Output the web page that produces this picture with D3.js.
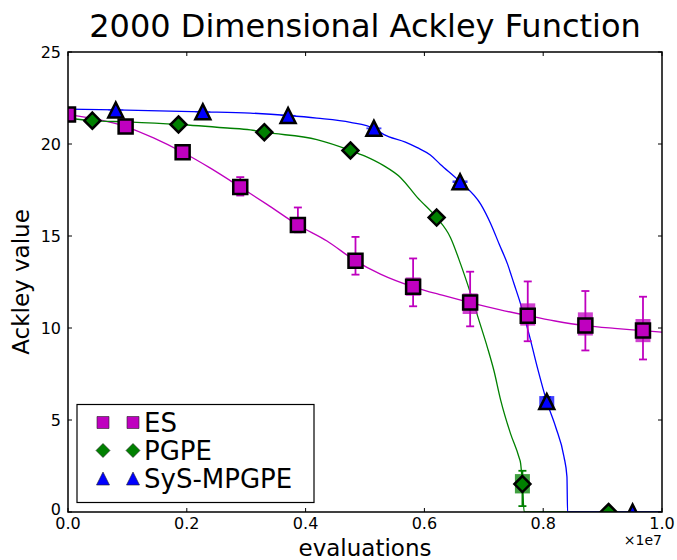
<!DOCTYPE html>
<html>
<head>
<meta charset="utf-8">
<script src="https://cdn.jsdelivr.net/npm/d3@7"></script>
<style>
  html, body { margin: 0; padding: 0; background: #fff; }
  svg text { font-family: "DejaVu Sans", sans-serif; fill: #000; }
</style>
</head>
<body>
<svg id="chart" width="677" height="560"></svg>
<script>
// evaluations are in units of 1e7
const xTicks = [0.0, 0.2, 0.4, 0.6, 0.8, 1.0];
const yTicks = [0, 5, 10, 15, 20, 25];

// ES mean curve
const esCurveX = [0, 0.048, 0.097, 0.144, 0.193, 0.239, 0.290, 0.335, 0.387, 0.436, 0.484, 0.526, 0.581, 0.630, 0.677, 0.726, 0.774, 0.820, 0.871, 0.920, 0.968, 1.0];
const esCurveY = [21.6, 21.35, 20.95, 20.33, 19.55, 18.7, 17.66, 16.72, 15.6, 14.73, 13.65, 12.93, 12.24, 11.78, 11.38, 11.0, 10.67, 10.38, 10.13, 9.98, 9.86, 9.77];
// ES markers with spread
const esMarkX = [0, 0.097, 0.193, 0.290, 0.387, 0.484, 0.581, 0.677, 0.774, 0.871, 0.968];
const esMarkY = [21.6, 20.95, 19.55, 17.66, 15.6, 13.65, 12.24, 11.38, 10.67, 10.13, 9.86];
const esErrLo = [21.5, 20.85, 19.4, 17.2, 15.2, 12.9, 11.18, 10.09, 9.28, 8.78, 8.29];
const esErrHi = [21.7, 21.05, 19.7, 18.2, 16.55, 14.95, 13.78, 13.06, 12.53, 12.01, 11.70];
const esBoxLo = [21.55, 20.9, 19.5, 17.5, 15.4, 13.35, 11.75, 10.76, 10.13, 9.59, 9.23];
const esBoxHi = [21.65, 21.0, 19.6, 17.85, 15.8, 13.95, 12.75, 11.88, 11.34, 10.85, 10.49];

// PGPE mean curve
const pgCurveX = [0, 0.041, 0.100, 0.186, 0.268, 0.307, 0.3305, 0.419, 0.4755, 0.500, 0.530, 0.560, 0.588, 0.6206, 0.644, 0.661, 0.678, 0.692, 0.706, 0.717, 0.7285, 0.745, 0.759, 0.762, 0.765, 0.768, 1.0];
const pgCurveY = [21.4, 21.27, 21.2, 21.06, 20.87, 20.77, 20.64, 20.24, 19.65, 19.34, 18.85, 18.17, 17.1, 16.0, 14.91, 13.47, 11.85, 10.4, 8.95, 7.69, 6.07, 4.26, 3.0, 2.64, 1.52, 0, 0];
const pgMarkX = [0.041, 0.186, 0.3305, 0.4755, 0.6206, 0.765, 0.910];
const pgMarkY = [21.27, 21.06, 20.64, 19.65, 16.0, 1.52, 0];
const pgErrLo = [21.2, 21.0, 20.55, 19.55, 15.85, 0.32, 0];
const pgErrHi = [21.35, 21.12, 20.72, 19.75, 16.15, 2.24, 0];
const pgBoxLo = [21.22, 21.02, 20.6, 19.6, 15.9, 1.01, 0];
const pgBoxHi = [21.32, 21.1, 20.68, 19.7, 16.1, 2.06, 0];

// SyS-MPGPE mean curve
const sysCurveX = [0, 0.0804, 0.227, 0.307, 0.3705, 0.419, 0.4755, 0.515, 0.532, 0.568, 0.588, 0.610, 0.627, 0.660, 0.695, 0.712, 0.726, 0.740, 0.751, 0.762, 0.776, 0.790, 0.806, 0.821, 0.835, 0.840, 0.841, 1.0];
const sysCurveY = [21.9, 21.85, 21.75, 21.68, 21.55, 21.41, 21.18, 20.85, 20.51, 20.1, 19.8, 19.4, 18.89, 17.95, 16.72, 15.64, 14.55, 13.47, 12.39, 11.3, 9.68, 7.87, 6.0, 4.62, 3.0, 1.91, 0, 0];
const sysMarkX = [0.0804, 0.227, 0.3705, 0.515, 0.660, 0.806, 0.9505];
const sysMarkY = [21.85, 21.75, 21.55, 20.85, 17.95, 6.0, 0];
const sysErrLo = [21.8, 21.7, 21.5, 20.78, 17.85, 5.75, 0];
const sysErrHi = [21.9, 21.8, 21.6, 20.92, 18.05, 6.25, 0];
const sysBoxLo = [21.82, 21.72, 21.52, 20.8, 17.88, 5.7, 0];
const sysBoxHi = [21.88, 21.78, 21.58, 20.9, 18.02, 6.3, 0];

const seriesNames = ["ES", "PGPE", "SyS-MPGPE"];

const svg = d3.select("#chart");
const plotL = 68, plotR = 662, plotT = 52, plotB = 512;
const x = d3.scaleLinear().domain([0, 1.0]).range([plotL, plotR]);
const y = d3.scaleLinear().domain([0, 25]).range([plotB, plotT]);

const series = [
  { name: seriesNames[0], color: "#bf00bf", shape: "square",
    cx: esCurveX, cy: esCurveY, mx: esMarkX, my: esMarkY, lo: esErrLo, hi: esErrHi, blo: esBoxLo, bhi: esBoxHi },
  { name: seriesNames[1], color: "#008000", shape: "diamond",
    cx: pgCurveX, cy: pgCurveY, mx: pgMarkX, my: pgMarkY, lo: pgErrLo, hi: pgErrHi, blo: pgBoxLo, bhi: pgBoxHi },
  { name: seriesNames[2], color: "#0000ff", shape: "triangle",
    cx: sysCurveX, cy: sysCurveY, mx: sysMarkX, my: sysMarkY, lo: sysErrLo, hi: sysErrHi, blo: sysBoxLo, bhi: sysBoxHi }
];

svg.append("defs").append("clipPath").attr("id", "plotClip")
  .append("rect").attr("x", plotL).attr("y", plotT).attr("width", plotR - plotL).attr("height", plotB - plotT);

// title
svg.append("text").attr("x", 365).attr("y", 37).attr("text-anchor", "middle")
  .style("font-size", "32px").text("2000 Dimensional Ackley Function");

const plot = svg.append("g").attr("clip-path", "url(#plotClip)");

function markerPath(shape, s) {
  if (shape === "square") return `M${-s},${-s}H${s}V${s}H${-s}Z`;
  if (shape === "diamond") return `M0,${-s}L${s},0L0,${s}L${-s},0Z`;
  return `M0,${-s}L${s},${s}L${-s},${s}Z`;
}
const markerSize = { square: 7, diamond: 8, triangle: 7.5 };

// mean curves
const line = d3.line().x(d => x(d[0])).y(d => y(d[1])).curve(d3.curveMonotoneX);
series.forEach(s => {
  const pts = s.cx.map((v, i) => [v, s.cy[i]]);
  plot.append("path").attr("d", line(pts))
    .attr("fill", "none").attr("stroke", s.color).attr("stroke-width", 1.3);
});

// spread bars and markers
series.forEach(s => {
  const g = plot.append("g");
  s.mx.forEach((mx, i) => {
    const px = x(mx);
    // thick inner band
    g.append("line").attr("x1", px).attr("x2", px)
      .attr("y1", y(s.blo[i])).attr("y2", y(s.bhi[i]))
      .attr("stroke", s.color).attr("stroke-opacity", 0.75).attr("stroke-width", 15);
    // whisker
    g.append("line").attr("x1", px).attr("x2", px)
      .attr("y1", y(s.lo[i])).attr("y2", y(s.hi[i]))
      .attr("stroke", s.color).attr("stroke-width", 1.8);
    [s.lo[i], s.hi[i]].forEach(v => {
      g.append("line").attr("x1", px - 4).attr("x2", px + 4)
        .attr("y1", y(v)).attr("y2", y(v))
        .attr("stroke", s.color).attr("stroke-width", 1.8);
    });
  });
  s.mx.forEach((mx, i) => {
    g.append("path").attr("d", markerPath(s.shape, markerSize[s.shape]))
      .attr("transform", `translate(${x(mx)},${y(s.my[i])})`)
      .attr("fill", s.color).attr("stroke", "#000").attr("stroke-width", 2.5)
      .attr("stroke-linejoin", "miter");
  });
});

// frame and ticks
const frame = svg.append("g");
frame.append("rect").attr("x", plotL).attr("y", plotT).attr("width", plotR - plotL).attr("height", plotB - plotT)
  .attr("fill", "none").attr("stroke", "#000").attr("stroke-width", 1.5);

xTicks.forEach(t => {
  const px = x(t);
  frame.append("line").attr("x1", px).attr("x2", px).attr("y1", plotB).attr("y2", plotB - 4).attr("stroke", "#000");
  frame.append("line").attr("x1", px).attr("x2", px).attr("y1", plotT).attr("y2", plotT + 4).attr("stroke", "#000");
  frame.append("text").attr("x", px).attr("y", 529).attr("text-anchor", "middle")
    .style("font-size", "16px").text(d3.format(".1f")(t));
});
yTicks.forEach(t => {
  const py = y(t);
  frame.append("line").attr("x1", plotL).attr("x2", plotL + 4).attr("y1", py).attr("y2", py).attr("stroke", "#000");
  frame.append("line").attr("x1", plotR).attr("x2", plotR - 4).attr("y1", py).attr("y2", py).attr("stroke", "#000");
  frame.append("text").attr("x", 61).attr("y", t === 0 ? py + 3 : py + 6).attr("text-anchor", "end")
    .style("font-size", "16px").text(t);
});

// offset text
svg.append("text").attr("x", 662).attr("y", 545).attr("text-anchor", "end")
  .style("font-size", "14px").text("×1e7");

// axis labels
svg.append("text").attr("x", 365).attr("y", 556).attr("text-anchor", "middle")
  .style("font-size", "23px").text("evaluations");
svg.append("text").attr("transform", "translate(29,282) rotate(-90)").attr("text-anchor", "middle")
  .style("font-size", "23px").text("Ackley value");

// legend
const lg = svg.append("g");
lg.append("rect").attr("x", 77).attr("y", 404.5).attr("width", 237).attr("height", 98)
  .attr("fill", "#fff").attr("stroke", "#000").attr("stroke-width", 1.2);
const rowBase = [432, 460, 488];
const legSize = { square: 6, diamond: 7, triangle: 6.5 };
series.forEach((s, i) => {
  const cy = rowBase[i] - 9.5;
  [103, 133].forEach(px => {
    lg.append("path").attr("d", markerPath(s.shape, legSize[s.shape]))
      .attr("transform", `translate(${px},${cy})`)
      .attr("fill", s.color).attr("stroke", "#222").attr("stroke-width", 0.6);
  });
  lg.append("text").attr("x", 144).attr("y", rowBase[i]).style("font-size", "26px").text(s.name);
});
</script>
</body>
</html>
